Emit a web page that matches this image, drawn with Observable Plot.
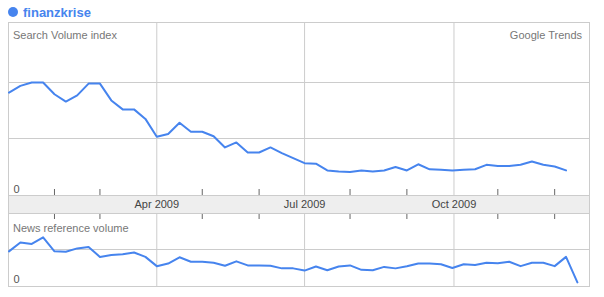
<!DOCTYPE html>
<html><head><meta charset="utf-8">
<script src="https://cdn.jsdelivr.net/npm/d3@7"></script>
<script src="https://cdn.jsdelivr.net/npm/@observablehq/plot@0.6"></script>
<style>
body{margin:0;background:#fff;font-family:"Liberation Sans",Arial,sans-serif;}
#chart{position:relative;width:604px;height:297px;overflow:hidden;background:#fff;}
#chart > *{position:absolute;}
#dot{left:8px;top:7px;width:10px;height:10px;border-radius:50%;background:#4684ee;}
#title{left:23px;top:6px;font-size:13px;line-height:13px;font-weight:bold;color:#4684ee;white-space:nowrap;}
#band{left:8px;top:195px;width:582px;height:19px;box-sizing:border-box;border:1px solid #ccc;background:#eee;}
</style></head><body>
<div id="chart"><div id="dot"></div><div id="title"></div><div id="band"></div></div>
<script>
const titleText = "finanzkrise";
const panelTitles = ["Search Volume index", "News reference volume"];
const creditText = "Google Trends";
const weeks = ["2008-12-31","2009-01-07","2009-01-14","2009-01-21","2009-01-28","2009-02-04","2009-02-11","2009-02-18","2009-02-25",
  "2009-03-04","2009-03-11","2009-03-18","2009-03-25","2009-04-01","2009-04-08","2009-04-15","2009-04-22","2009-04-29",
  "2009-05-06","2009-05-13","2009-05-20","2009-05-27","2009-06-03","2009-06-10","2009-06-17","2009-06-24","2009-07-01",
  "2009-07-08","2009-07-15","2009-07-22","2009-07-29","2009-08-05","2009-08-12","2009-08-19","2009-08-26","2009-09-02",
  "2009-09-09","2009-09-16","2009-09-23","2009-09-30","2009-10-07","2009-10-14","2009-10-21","2009-10-28","2009-11-04",
  "2009-11-11","2009-11-18","2009-11-25","2009-12-02","2009-12-09","2009-12-16"];
const searchVolume = [1.82,1.94,2.00,2.00,1.79,1.66,1.77,1.98,1.98,1.68,1.52,1.52,1.35,1.03,1.08,1.28,1.12,1.12,1.04,0.84,
  0.93,0.75,0.75,0.84,0.74,0.65,0.56,0.55,0.43,0.41,0.40,0.43,0.41,0.43,0.49,0.43,0.54,0.45,0.44,0.43,
  0.44,0.45,0.53,0.51,0.51,0.53,0.59,0.53,0.50,0.43];
const newsVolume = [0.95,1.19,1.15,1.33,0.95,0.94,1.03,1.07,0.80,0.85,0.87,0.92,0.80,0.55,0.62,0.79,0.67,0.67,0.64,0.56,
  0.68,0.57,0.57,0.56,0.49,0.49,0.43,0.54,0.44,0.54,0.57,0.45,0.44,0.53,0.49,0.55,0.62,0.62,0.60,0.50,
  0.60,0.58,0.64,0.63,0.67,0.55,0.64,0.64,0.55,0.80,0.11];
const quarterDates = ["2009-04-01","2009-07-01","2009-10-01"];
const quarterLabels = ["Apr 2009","Jul 2009","Oct 2009"];
const minorTickDates = ["2009-01-28","2009-02-25","2009-04-29","2009-06-03","2009-07-29","2009-09-02","2009-10-28","2009-12-02"];
const searchGrid = [1, 2];
const newsGrid = [1];
const zeroLabel = ["0"];

const toDate = s => new Date(s + "T00:00:00Z");
const search = searchVolume.map((v, i) => ({week: toDate(weeks[i]), value: v}));
const news = newsVolume.map((v, i) => ({week: toDate(weeks[i]), value: v}));
const quarters = quarterDates.map((d, i) => ({date: toDate(d), label: quarterLabels[i]}));
const minors = minorTickDates.map(toDate);

const FONT = "'Liberation Sans', Arial, sans-serif";
const LINE = "#4684ee", GRID = "#ccc";
const xScale = () => ({type: "utc", domain: [new Date(Date.UTC(2008, 11, 30, 16, 36)), new Date(Date.UTC(2009, 11, 23, 10, 48))], axis: null});
const baseStyle = {background: "transparent", fontFamily: FONT, fontSize: "11px", overflow: "visible"};

document.getElementById("title").textContent = titleText;

const topPlot = Plot.plot({
  width: 604, height: 173, marginLeft: 8, marginRight: 15, marginTop: 0, marginBottom: 0,
  style: baseStyle,
  x: xScale(),
  y: {domain: [0, 172 / 56], range: [172, 0], axis: null},
  marks: [
    Plot.ruleY(searchGrid, {stroke: GRID, strokeOpacity: 1}),
    Plot.ruleX(quarters, {x: "date", stroke: GRID, strokeOpacity: 1}),
    Plot.tickX(minors, {x: d => d, insetTop: 167, stroke: "#666"}),
    Plot.frame({stroke: GRID}),
    Plot.line(search, {x: "week", y: "value", stroke: LINE, strokeWidth: 2}),
    Plot.text([panelTitles[0]], {text: d => d, frameAnchor: "top-left", lineAnchor: "top", textAnchor: "start", dx: 4.5, dy: 9, fill: "#777", fontSize: 11}),
    Plot.text([creditText], {text: d => d, frameAnchor: "top-right", lineAnchor: "top", textAnchor: "end", dx: -7.5, dy: 9, fill: "#777", fontSize: 11}),
    Plot.text(zeroLabel, {text: d => d, y: () => 0, frameAnchor: "left", lineAnchor: "top", textAnchor: "start", dx: 5, dy: -9.6, fill: "#555", fontSize: 11})
  ]
});
topPlot.style.left = "0px"; topPlot.style.top = "22px";

const botPlot = Plot.plot({
  width: 604, height: 91, marginLeft: 8, marginRight: 15, marginTop: 18, marginBottom: 0,
  style: baseStyle,
  x: xScale(),
  y: {domain: [0, 73 / 37], axis: null},
  marks: [
    Plot.ruleY(newsGrid, {stroke: GRID, strokeOpacity: 1}),
    Plot.ruleX(quarters, {x: "date", stroke: GRID, strokeOpacity: 1}),
    Plot.tickX(minors, {x: d => d, insetBottom: 67, stroke: "#666"}),
    Plot.frame({stroke: GRID}),
    Plot.text(quarters, {x: "date", text: "label", frameAnchor: "top", lineAnchor: "top", textAnchor: "middle", dy: -13, fill: "#444", fontSize: 11}),
    Plot.line(news, {x: "week", y: "value", stroke: LINE, strokeWidth: 2}),
    Plot.text([panelTitles[1]], {text: d => d, frameAnchor: "top-left", lineAnchor: "top", textAnchor: "start", dx: 4.5, dy: 10.2, fill: "#777", fontSize: 11}),
    Plot.text(zeroLabel, {text: d => d, y: () => 0, frameAnchor: "left", lineAnchor: "top", textAnchor: "start", dx: 5, dy: -11.3, fill: "#555", fontSize: 11})
  ]
});
botPlot.style.left = "0px"; botPlot.style.top = "195px";

const chart = document.getElementById("chart");
chart.appendChild(topPlot);
chart.appendChild(botPlot);
</script>
</body></html>
